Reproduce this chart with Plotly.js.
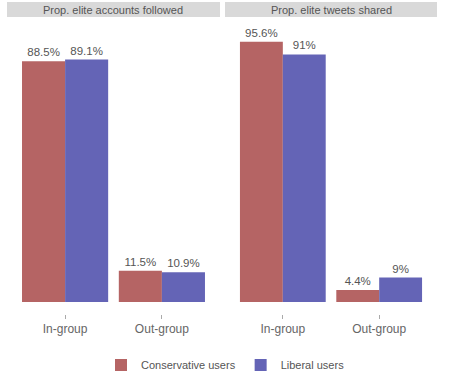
<!DOCTYPE html>
<html>
<head>
<meta charset="utf-8">
<script src="https://cdn.plot.ly/plotly-3.0.1.min.js"></script>
<style>html,body{margin:0;padding:0;background:#fff;}#chart{width:451px;height:379px;}</style>
</head>
<body>
<div id="chart"></div>
<script>
const categories = ['In-group', 'Out-group'];
const panelTitles = ['Prop. elite accounts followed', 'Prop. elite tweets shared'];
const seriesNames = ['Conservative users', 'Liberal users'];
const conservativeFollowed = [88.5, 11.5];
const liberalFollowed = [89.1, 10.9];
const conservativeShared = [95.6, 4.4];
const liberalShared = [91, 9];

const colors = ['#b56464', '#6464b6'];
const FONT = 'Liberation Sans, Arial, sans-serif';
const textFont = {family: FONT, size: 11.5, color: '#555'};

function bar(y, name, color, xa, ya, showlegend) {
  return {
    type: 'bar', x: categories, y: y, name: name, xaxis: xa, yaxis: ya,
    marker: {color: color}, showlegend: showlegend, legendgroup: name,
    text: y.map(v => v + '%'), textposition: 'outside', textfont: textFont,
    cliponaxis: false, hoverinfo: 'none'
  };
}

const data = [
  bar(conservativeFollowed, seriesNames[0], colors[0], 'x', 'y', true),
  bar(liberalFollowed, seriesNames[1], colors[1], 'x', 'y', true),
  bar(conservativeShared, seriesNames[0], colors[0], 'x2', 'y2', false),
  bar(liberalShared, seriesNames[1], colors[1], 'x2', 'y2', false)
];

const xCommon = {
  range: [-0.6, 1.6], showgrid: false, zeroline: false, showline: false,
  ticks: 'outside', ticklen: 4, tickcolor: '#aaa', tickwidth: 1,
  tickfont: {family: FONT, size: 12, color: '#666'},
  fixedrange: true, automargin: false
};
const yCommon = {
  range: [-4.4, 104], showgrid: false, zeroline: false, showline: false,
  showticklabels: false, ticks: '', fixedrange: true, automargin: false
};

const shapes = [];
const annotations = [];
const doms = [[0, 0.4953], [0.507, 1]];
doms.forEach((d, i) => {
  shapes.push({type: 'rect', xref: 'paper', yref: 'paper', x0: d[0], x1: d[1],
    y0: 1.0068, y1: 1.0579, fillcolor: '#d9d9d9', line: {width: 0}, layer: 'below'});
  annotations.push({xref: 'paper', yref: 'paper', x: (d[0] + d[1]) / 2, y: 1.032,
    text: panelTitles[i], showarrow: false, xanchor: 'center', yanchor: 'middle',
    font: {family: FONT, size: 11, color: '#555'}});
});

const layout = {
  width: 451, height: 379,
  margin: {l: 7, r: 14, t: 19, b: 65, autoexpand: false},
  paper_bgcolor: '#fff', plot_bgcolor: '#fff',
  barmode: 'group', bargap: 0.11, bargroupgap: 0,
  xaxis: Object.assign({domain: doms[0], anchor: 'y'}, xCommon),
  yaxis: Object.assign({domain: [0, 1], anchor: 'x'}, yCommon),
  xaxis2: Object.assign({domain: doms[1], anchor: 'y2'}, xCommon),
  yaxis2: Object.assign({domain: [0, 1], anchor: 'x2'}, yCommon),
  showlegend: true,
  legend: {orientation: 'h', xref: 'container', yref: 'container', x: 0.5, xanchor: 'center',
    y: 0.037, yanchor: 'middle',
    font: {family: FONT, size: 11, color: '#555'},
    traceorder: 'normal'},
  shapes: shapes, annotations: annotations
};

Plotly.newPlot('chart', data, layout, {displayModeBar: false, staticPlot: true});
</script>
</body>
</html>
